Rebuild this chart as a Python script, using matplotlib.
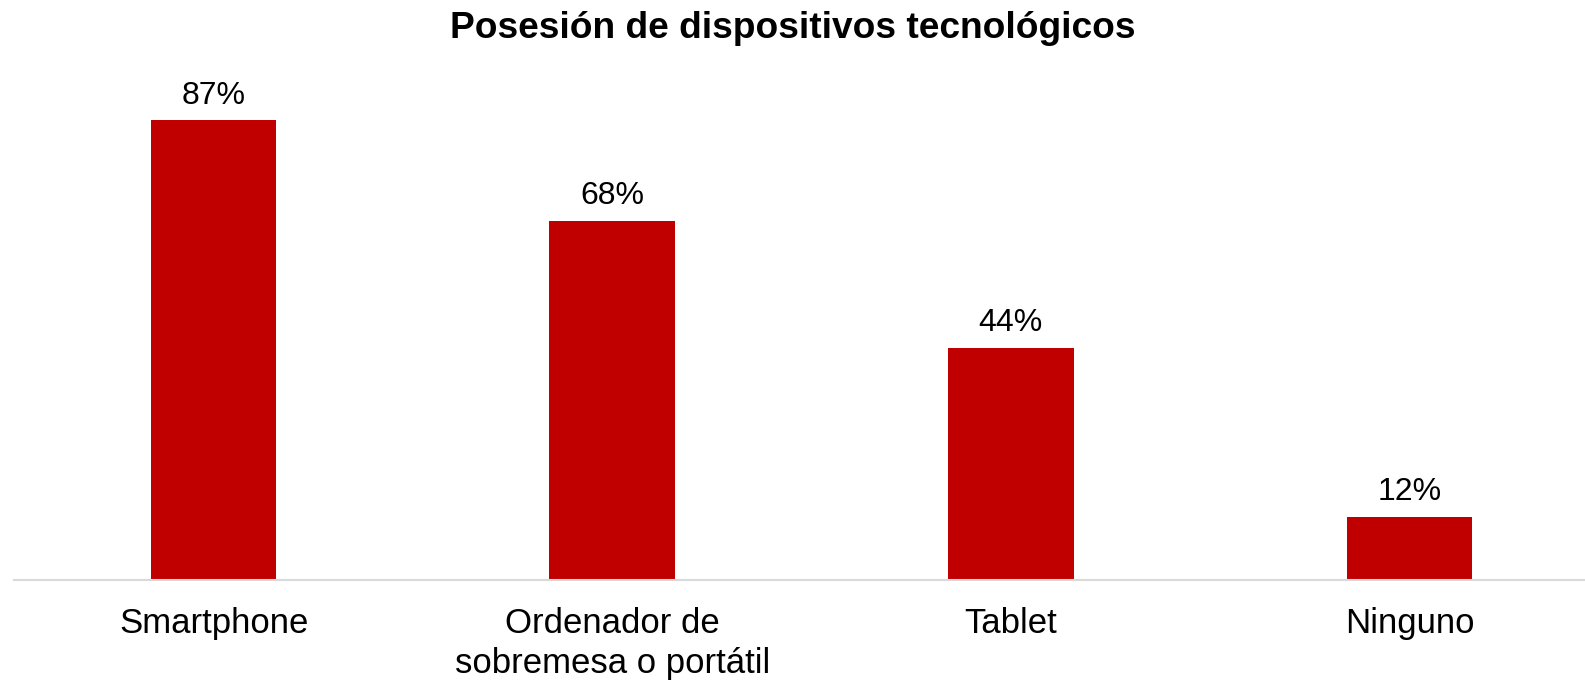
import matplotlib
matplotlib.use('Agg')
import matplotlib.pyplot as plt
import numpy as np

plt.rcParams['font.family'] = ['Liberation Sans', 'DejaVu Sans']

categories = ['Smartphone', 'Ordenador de\nsobremesa o portátil', 'Tablet', 'Ninguno']
values = [87, 68, 44, 12]
bar_color = '#C00000'

fig = plt.figure(figsize=(15.85, 6.81), dpi=100)
ax = fig.add_axes([0.009, 0.148, 1.006, 0.776])

x = np.arange(len(categories))
bars = ax.bar(x, values, width=0.315, color=bar_color)

for b, v in zip(bars, values):
    ax.annotate(f'{v}%', (b.get_x() + b.get_width() / 2, v),
                xytext=(0, 7), textcoords='offset points',
                ha='center', va='bottom', fontsize=23)

ax.set_xlim(-0.5, len(categories) - 0.5)
ax.set_ylim(0, 100)
ax.set_xticks(x)
ax.set_xticklabels(categories, fontsize=25, linespacing=1.3)
ax.tick_params(axis='x', length=0, pad=19)
ax.set_yticks([])
for side in ['top', 'right', 'left']:
    ax.spines[side].set_visible(False)
ax.spines['bottom'].set_color('#D9D9D9')
ax.spines['bottom'].set_linewidth(1.5)

fig.text(0.5, 1 - 28 / 681, 'Posesión de dispositivos tecnológicos',
         ha='center', va='center', fontsize=26.7, fontweight='bold')

fig.savefig('out.png', dpi=100)
